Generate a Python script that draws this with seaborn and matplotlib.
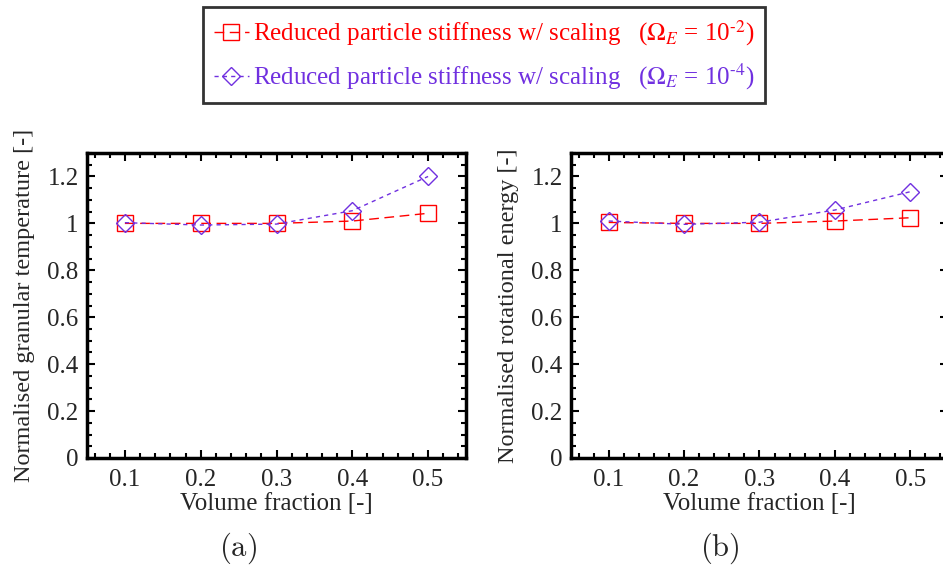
import numpy as np
import pandas as pd
import matplotlib
matplotlib.use('Agg')
import matplotlib.pyplot as plt
from matplotlib.ticker import MultipleLocator
import seaborn as sns

# data
volume_fraction = [0.1, 0.2, 0.3, 0.4, 0.5]
temp_omega_e2 = [1.0, 1.0, 1.0, 1.01, 1.043]
temp_omega_e4 = [1.003, 0.993, 0.997, 1.054, 1.20]
rot_omega_e2 = [1.004, 1.0, 1.0, 1.01, 1.024]
rot_omega_e4 = [1.01, 0.996, 1.005, 1.057, 1.135]

ylabels = ['Normalised granular temperature [-]', 'Normalised rotational energy [-]']
labels = ['Reduced particle stiffness w/ scaling   ($\\Omega_E$ = 10$^{\u2010\\mathrm{2}}$)',
          'Reduced particle stiffness w/ scaling   ($\\Omega_E$ = 10$^{\u2010\\mathrm{4}}$)']

red = '#ff0000'
purple = '#7030e0'

sns.set_style('ticks')
plt.rcParams['font.family'] = ['Liberation Serif', 'DejaVu Serif']
plt.rcParams['mathtext.fontset'] = 'stix'

fig = plt.figure(figsize=(9.43, 5.70), dpi=100)
ax_a = fig.add_axes([87 / 943, 1 - 458 / 570, 379 / 943, 305 / 570])
ax_b = fig.add_axes([571 / 943, 1 - 458 / 570, 377 / 943, 305 / 570])

panels = [(ax_a, temp_omega_e2, temp_omega_e4), (ax_b, rot_omega_e2, rot_omega_e4)]
for i, (ax, s2, s4) in enumerate(panels):
    df = pd.DataFrame({'vf': volume_fraction, 'e2': s2, 'e4': s4})
    sns.lineplot(data=df, x='vf', y='e2', ax=ax, color=red, linewidth=1,
                 linestyle=(0, (7, 4)), marker='s', markersize=11,
                 markerfacecolor='none', markeredgecolor=red, markeredgewidth=1,
                 label=labels[0], legend=False)
    sns.lineplot(data=df, x='vf', y='e4', ax=ax, color=purple, linewidth=1,
                 linestyle=(0, (3, 3)), marker='D', markersize=9.5,
                 markerfacecolor='none', markeredgecolor=purple, markeredgewidth=1,
                 label=labels[1], legend=False)

    ax.set_xlim(0.05, 0.55)
    ax.set_ylim(0, 1.3)
    ax.xaxis.set_minor_locator(MultipleLocator(0.02))
    ax.yaxis.set_minor_locator(MultipleLocator(0.05))
    ax.set_xticks([0.1, 0.2, 0.3, 0.4, 0.5])
    ax.set_xticklabels(['0.1', '0.2', '0.3', '0.4', '0.5'])
    ax.set_yticks([0, 0.2, 0.4, 0.6, 0.8, 1.0, 1.2])
    ax.set_yticklabels(['0', '0.2', '0.4', '0.6', '0.8', '1', '1.2'])
    ax.tick_params(which='both', direction='in', top=True, right=True,
                   width=1.5, labelsize=18, color='black')
    ax.tick_params(which='major', length=6)
    ax.tick_params(which='minor', length=3.5)
    ax.tick_params(axis='x', pad=8)
    ax.tick_params(axis='y', pad=6)
    for sp in ax.spines.values():
        sp.set_linewidth(2.5)
        sp.set_color('black')
        sp.set_visible(True)
    ax.set_xlabel('Volume fraction [-]', fontsize=18, labelpad=1)
    ax.set_ylabel(ylabels[i], fontsize=17.5, labelpad=9)

fig.text(238 / 943, 1 - 548 / 570, r'$\mathrm{(a)}$', math_fontfamily='cm',
         fontsize=22, ha='center', va='center')
fig.text(720 / 943, 1 - 548 / 570, r'$\mathrm{(b)}$', math_fontfamily='cm',
         fontsize=22, ha='center', va='center')

handles, _ = ax_a.get_legend_handles_labels()
leg = fig.legend(handles, labels, loc='upper center', bbox_to_anchor=(484 / 943, 1 - 7 / 570),
                 fontsize=18, frameon=True, fancybox=False, edgecolor='black',
                 handlelength=1.4, handletextpad=0.15, borderpad=0.45, labelspacing=0.55,
                 borderaxespad=0)
leg.get_frame().set_linewidth(2)
for txt, c in zip(leg.get_texts(), [red, purple]):
    txt.set_color(c)

fig.savefig('out.png', dpi=100)
